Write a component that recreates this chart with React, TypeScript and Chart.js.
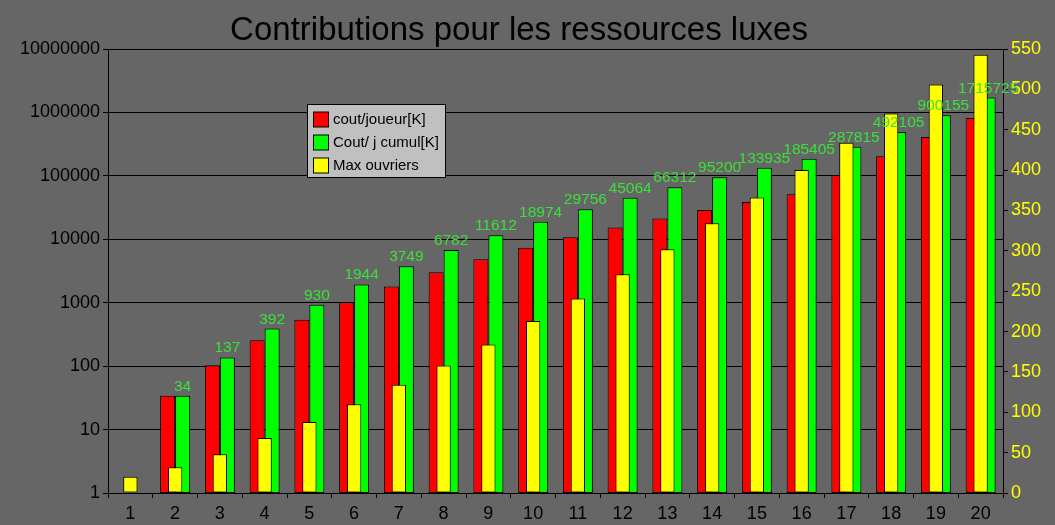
import React, { useEffect, useRef } from "react";
import { Chart, registerables } from "chart.js";

Chart.register(...registerables);

// Niveaux 1 à 20
const categories = [
  "1", "2", "3", "4", "5", "6", "7", "8", "9", "10",
  "11", "12", "13", "14", "15", "16", "17", "18", "19", "20",
];

// Coût par joueur (K) à chaque niveau
const coutJoueur = [
  null, 34, 103, 255, 538, 1014, 1805, 3033, 4830, 7362,
  10782, 15308, 21248, 28888, 38735, 51470, 102410, 204290, 408050, 815570,
];

// Coût cumulé par joueur (K)
const coutCumul = [
  null, 34, 137, 392, 930, 1944, 3749, 6782, 11612, 18974,
  29756, 45064, 66312, 95200, 133935, 185405, 287815, 492105, 900155, 1715725,
];

// Nombre maximal d'ouvriers (axe de droite)
const maxOuvriers = [
  20, 32, 48, 68, 88, 110, 134, 158, 184, 213,
  241, 271, 302, 334, 366, 400, 434, 470, 506, 543,
];

const logTicks = [1, 10, 100, 1000, 10000, 100000, 1000000, 10000000];

const TITLE = "Contributions pour les ressources luxes";
const FONT = "'Liberation Sans', Arial, sans-serif";
const BG = "#666666";

const backgroundPlugin = {
  id: "bgFill",
  beforeDraw(chart: any) {
    const { ctx, width, height } = chart;
    ctx.save();
    ctx.fillStyle = BG;
    ctx.fillRect(0, 0, width, height);
    ctx.restore();
  },
};

const titlePlugin = {
  id: "titleText",
  afterDraw(chart: any) {
    const { ctx } = chart;
    ctx.save();
    ctx.font = `33px ${FONT}`;
    ctx.fillStyle = "#000000";
    ctx.textAlign = "center";
    ctx.textBaseline = "alphabetic";
    ctx.fillText(TITLE, 519, 40);
    ctx.restore();
  },
};

// Valeurs cumulées écrites au-dessus des barres vertes
const cumulLabelsPlugin = {
  id: "cumulLabels",
  afterDatasetsDraw(chart: any) {
    const { ctx } = chart;
    const meta = chart.getDatasetMeta(1);
    const values = chart.data.datasets[1].data;
    ctx.save();
    ctx.font = `15.5px ${FONT}`;
    ctx.fillStyle = "#3ce03c";
    ctx.textAlign = "center";
    ctx.textBaseline = "alphabetic";
    meta.data.forEach((el: any, i: number) => {
      const v = values[i];
      if (v === null || v === undefined) return;
      ctx.fillText(String(v), el.x, el.y - 5);
    });
    ctx.restore();
  },
};

// Légende encadrée à l'intérieur de la zone du graphique
const legendBoxPlugin = {
  id: "legendBox",
  afterDraw(chart: any) {
    const { ctx } = chart;
    const x = 307.5;
    const y = 104.5;
    const w = 138;
    const h = 73;
    ctx.save();
    ctx.fillStyle = "#c0c0c0";
    ctx.fillRect(x, y, w, h);
    ctx.strokeStyle = "#000000";
    ctx.lineWidth = 1;
    ctx.strokeRect(x, y, w, h);
    ctx.font = `15px ${FONT}`;
    ctx.textAlign = "left";
    ctx.textBaseline = "middle";
    chart.data.datasets.forEach((ds: any, i: number) => {
      const cy = 119.5 + i * 23;
      ctx.fillStyle = ds.backgroundColor;
      ctx.fillRect(313.5, cy - 7.5, 15, 15);
      ctx.strokeRect(313.5, cy - 7.5, 15, 15);
      ctx.fillStyle = "#000000";
      ctx.fillText(ds.label, 333, cy);
    });
    ctx.restore();
  },
};

export default function App() {
  const canvasRef = useRef<HTMLCanvasElement | null>(null);

  useEffect(() => {
    document.body.style.margin = "0";
    document.body.style.background = BG;
    const canvas = canvasRef.current;
    if (!canvas) return;

    const chart = new Chart(canvas, {
      type: "bar",
      data: {
        labels: categories,
        datasets: [
          {
            label: "cout/joueur[K]",
            data: coutJoueur,
            backgroundColor: "#ff0000",
            borderColor: "#000000",
            borderWidth: 1,
            borderSkipped: false,
            yAxisID: "y",
            categoryPercentage: 0.67,
            barPercentage: 1,
            order: 1,
          },
          {
            label: "Cout/ j cumul[K]",
            data: coutCumul,
            backgroundColor: "#00ff00",
            borderColor: "#000000",
            borderWidth: 1,
            borderSkipped: false,
            yAxisID: "y",
            categoryPercentage: 0.67,
            barPercentage: 1,
            order: 1,
          },
          {
            label: "Max ouvriers",
            data: maxOuvriers,
            backgroundColor: "#ffff00",
            borderColor: "#000000",
            borderWidth: 1,
            borderSkipped: false,
            yAxisID: "y1",
            grouped: false,
            barPercentage: 0.4,
            order: -1,
          },
        ],
      } as any,
      options: {
        responsive: false,
        animation: false,
        devicePixelRatio: 1,
        layout: { padding: { top: 49, left: 0, right: 0, bottom: 0 } },
        plugins: {
          legend: { display: false },
          title: { display: false },
          tooltip: { enabled: false },
        },
        scales: {
          x: {
            type: "category",
            offset: true,
            grid: {
              offset: true,
              drawOnChartArea: false,
              drawTicks: true,
              tickLength: 5,
              color: "#000000",
            },
            border: { color: "#000000", width: 1 },
            ticks: {
              color: "#000000",
              font: { family: FONT, size: 18 },
              padding: 5,
              maxRotation: 0,
              autoSkip: false,
            },
            afterFit(scale: any) {
              scale.height = 32;
            },
          },
          y: {
            type: "logarithmic",
            position: "left",
            min: 1,
            max: 10000000,
            grid: {
              color: "#000000",
              lineWidth: 1,
              drawTicks: true,
              tickLength: 5,
            },
            border: { color: "#000000", width: 1 },
            ticks: {
              color: "#000000",
              font: { family: FONT, size: 18 },
              padding: 3,
              callback: (v: any) => String(v),
            },
            afterBuildTicks(scale: any) {
              scale.ticks = logTicks.map((v) => ({ value: v }));
            },
            afterFit(scale: any) {
              scale.width = 108;
            },
          },
          y1: {
            type: "linear",
            position: "right",
            min: 0,
            max: 550,
            grid: {
              drawOnChartArea: false,
              drawTicks: true,
              tickLength: 5,
              color: "#000000",
            },
            border: { color: "#000000", width: 1 },
            ticks: {
              stepSize: 50,
              color: "#ffff00",
              font: { family: FONT, size: 18 },
              padding: 3,
            },
            afterFit(scale: any) {
              scale.width = 52;
            },
          },
        },
      } as any,
      plugins: [backgroundPlugin, cumulLabelsPlugin, legendBoxPlugin, titlePlugin],
    });

    return () => {
      chart.destroy();
    };
  }, []);

  return (
    <div style={{ width: 1055, height: 525, background: BG }}>
      <canvas ref={canvasRef} width={1055} height={525} style={{ display: "block" }} />
    </div>
  );
}
